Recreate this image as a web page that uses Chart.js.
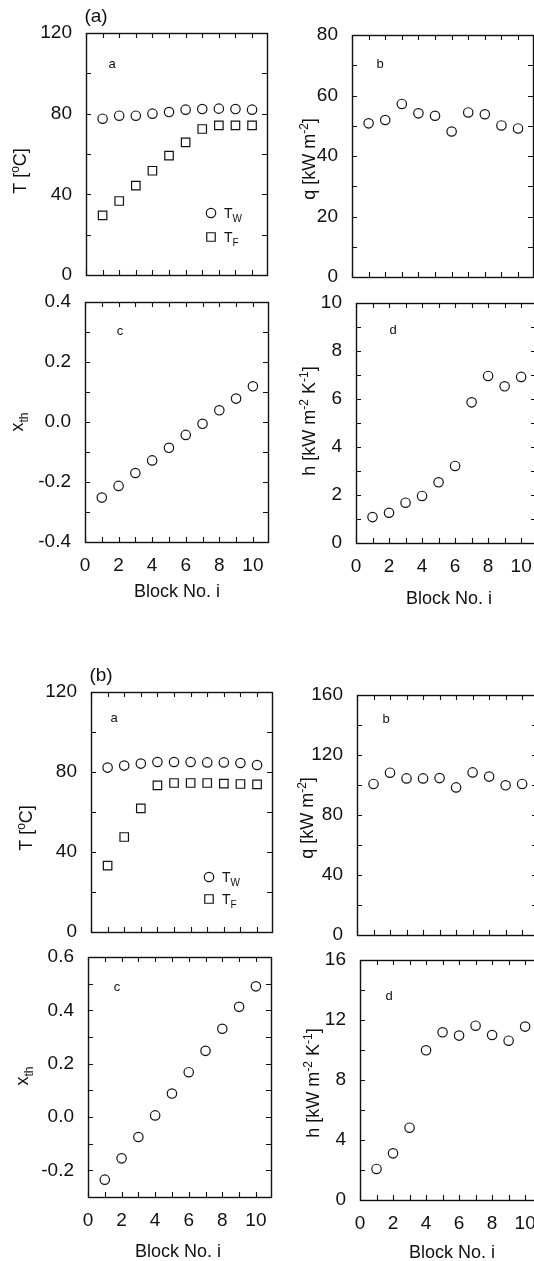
<!DOCTYPE html>
<html>
<head>
<meta charset="utf-8">
<script src="https://cdn.jsdelivr.net/npm/chart.js@4.4.0/dist/chart.umd.min.js"></script>
<style>
  html, body { margin: 0; padding: 0; background: #fff; width: 534px; height: 1261px; overflow: hidden; position: relative; }
  canvas { position: absolute; }
</style>
</head>
<body>
<script>
// Block numbers along the test section
const blocks = [1, 2, 3, 4, 5, 6, 7, 8, 9, 10];

// Run (a)
const twA  = [77.5, 79.0, 79.0, 80.0, 80.8, 82.0, 82.3, 82.5, 82.3, 82.0];
const tfA  = [29.6, 36.7, 44.3, 51.7, 59.2, 65.8, 72.4, 74.2, 74.2, 74.2];
const qA   = [50.8, 51.9, 57.2, 54.1, 53.3, 48.1, 54.4, 53.8, 50.1, 49.1];
const xthA = [-0.252, -0.213, -0.170, -0.128, -0.086, -0.043, -0.006, 0.039, 0.078, 0.119];
const hA   = [1.08, 1.26, 1.68, 1.96, 2.53, 3.21, 5.86, 6.96, 6.53, 6.92];

// Run (b)
const twB  = [82.2, 83.2, 84.2, 85.0, 85.0, 85.0, 84.8, 84.8, 84.5, 83.5];
const tfB  = [33.2, 47.5, 61.8, 73.3, 74.5, 74.5, 74.5, 74.2, 74.0, 73.8];
const qB   = [100.7, 108.2, 104.4, 104.4, 104.6, 98.4, 108.4, 105.6, 99.8, 100.7];
const xthB = [-0.235, -0.155, -0.075, 0.006, 0.088, 0.168, 0.248, 0.331, 0.413, 0.490];
const hB   = [2.07, 3.11, 4.82, 9.98, 11.18, 10.96, 11.62, 11.00, 10.62, 11.56];

// Tick positions along the block axis, and labelled tick values
const xTickValues    = [0, 1, 2, 3, 4, 5, 6, 7, 8, 9, 10];
const xTickLabels    = [0, 2, 4, 6, 8, 10];
const tTickLabels    = [0, 40, 80, 120];
const qTickLabelsA   = [0, 20, 40, 60, 80];
const xthTickLabelsA = [-0.4, -0.2, 0.0, 0.2, 0.4];
const hTickLabelsA   = [0, 2, 4, 6, 8, 10];
const qTickLabelsB   = [0, 40, 80, 120, 160];
const xthTickLabelsB = [-0.2, 0.0, 0.2, 0.4, 0.6];
const hTickLabelsB   = [0, 4, 8, 12, 16];

const FONT = '"Liberation Sans", Arial, Helvetica, sans-serif';
const INK = '#111';
const TICK_SIZE = 19;
Chart.defaults.font.family = FONT;
Chart.defaults.color = INK;

// Text with sub/superscript runs, optionally rotated to read upwards
function drawRich(ctx, segs, x, y, size, rotate, align) {
  const parts = segs.map(s => {
    const fs = (s.sup || s.sub) ? Math.round(size * 0.68) : size;
    ctx.font = fs + 'px ' + FONT;
    return { t: s.t, fs, w: ctx.measureText(s.t).width, dy: s.sup ? -size * 0.4 : (s.sub ? size * 0.3 : 0) };
  });
  const total = parts.reduce((a, p) => a + p.w, 0);
  ctx.save();
  ctx.translate(x, y);
  if (rotate) ctx.rotate(-Math.PI / 2);
  let cx = align === 'center' ? -total / 2 : 0;
  ctx.textBaseline = 'alphabetic';
  ctx.textAlign = 'left';
  ctx.fillStyle = INK;
  parts.forEach(p => { ctx.font = p.fs + 'px ' + FONT; ctx.fillText(p.t, cx, p.dy); cx += p.w; });
  ctx.restore();
}

// Closed frame with inward tick marks on all four sides
const frameTicks = {
  id: 'frameTicks',
  afterDatasetsDraw(chart) {
    const { ctx, chartArea: a, scales: { x, y } } = chart;
    const len = 5;
    ctx.save();
    ctx.strokeStyle = INK;
    ctx.lineWidth = 1.1;
    ctx.beginPath();
    x.ticks.forEach(t => {
      const px = Math.round(x.getPixelForValue(t.value)) + 0.5;
      ctx.moveTo(px, a.bottom); ctx.lineTo(px, a.bottom - len);
      ctx.moveTo(px, a.top); ctx.lineTo(px, a.top + len);
    });
    y.ticks.forEach(t => {
      const py = Math.round(y.getPixelForValue(t.value)) + 0.5;
      ctx.moveTo(a.left, py); ctx.lineTo(a.left + len, py);
      ctx.moveTo(a.right, py); ctx.lineTo(a.right - len, py);
    });
    ctx.stroke();
    ctx.lineWidth = 1.4;
    ctx.strokeRect(a.left + 0.5, a.top + 0.5, a.right - a.left, a.bottom - a.top);
    ctx.restore();
  }
};

// Axis titles, panel letters and the in-plot key
const panelDecor = {
  id: 'panelDecor',
  afterDraw(chart, args, o) {
    const ctx = chart.ctx;
    const ox = o.offset[0], oy = o.offset[1];
    (o.texts || []).forEach(t => drawRich(ctx, t.segs, t.x - ox, t.y - oy, t.size, t.rotate, t.align));
    (o.keys || []).forEach(k => {
      const ds = chart.data.datasets[k.dataset];
      ctx.save();
      ctx.strokeStyle = INK;
      ctx.fillStyle = 'rgba(0,0,0,0)';
      ctx.lineWidth = ds.pointBorderWidth;
      Chart.helpers.drawPoint(ctx, { pointStyle: ds.pointStyle, radius: ds.pointRadius, borderWidth: ds.pointBorderWidth, rotation: 0 }, k.x - ox, k.y - oy);
      ctx.restore();
      drawRich(ctx, k.segs, k.tx - ox, k.ty - oy, 14, false, 'left');
    });
  }
};

function labelFrom(list, digits) {
  return v => {
    const hit = list.find(l => Math.abs(l - v) < 1e-6);
    return hit === undefined ? '' : hit.toFixed(digits);
  };
}

const ML = 80, MT = 40, MR = 12, MB = 75;

function panel(p) {
  const [L, T, R, B] = p.box;
  const cw = R - L + ML + MR, ch = B - T + MT + MB;
  const left = L - ML, top = T - MT;
  const cv = document.createElement('canvas');
  cv.width = cw; cv.height = ch;
  cv.style.left = left + 'px'; cv.style.top = top + 'px';
  cv.style.width = cw + 'px'; cv.style.height = ch + 'px';
  document.body.appendChild(cv);

  new Chart(cv, {
    type: 'scatter',
    data: {
      datasets: p.series.map(s => ({
        label: s.name,
        data: blocks.map((b, i) => ({ x: b, y: s.values[i] })),
        pointStyle: s.style,
        pointRadius: s.style === 'rect' ? 6 : 4.7,
        pointHoverRadius: s.style === 'rect' ? 6 : 4.7,
        pointBorderWidth: 1.2,
        borderColor: INK,
        backgroundColor: 'rgba(0,0,0,0)',
        showLine: false
      }))
    },
    options: {
      responsive: false,
      animation: false,
      devicePixelRatio: 1,
      events: [],
      layout: { padding: { left: 0, top: MT, right: MR, bottom: 0 } },
      plugins: {
        legend: { display: false },
        tooltip: { enabled: false },
        panelDecor: { offset: [left, top], texts: p.texts, keys: p.keys }
      },
      scales: {
        x: {
          type: 'linear', min: 0, max: 10.9,
          afterBuildTicks: s => { s.ticks = xTickValues.map(v => ({ value: v })); },
          afterFit: s => { s.height = MB; },
          grid: { display: false }, border: { display: false },
          ticks: { display: p.xLabels, autoSkip: false, maxRotation: 0, minRotation: 0,
                   padding: 4, font: { size: TICK_SIZE }, color: INK, callback: labelFrom(xTickLabels, 0) }
        },
        y: {
          type: 'linear', min: p.yMin, max: p.yMax,
          afterFit: s => { s.width = ML; },
          grid: { display: false }, border: { display: false },
          ticks: { stepSize: p.yStep, autoSkip: false, padding: 6, font: { size: TICK_SIZE }, color: INK,
                   callback: labelFrom(p.yLabels, p.digits || 0) }
        }
      }
    },
    plugins: [frameTicks, panelDecor]
  });
}

const tTitle = [{ t: 'T [' }, { t: 'o', sup: true }, { t: 'C]' }];
const qTitle = [{ t: 'q [kW m' }, { t: '-2', sup: true }, { t: ']' }];
const xTitle = [{ t: 'x' }, { t: 'th', sub: true }];
const hTitle = [{ t: 'h [kW m' }, { t: '-2', sup: true }, { t: ' K' }, { t: '-1', sup: true }, { t: ']' }];
const blockTitle = [{ t: 'Block No. i' }];
const twKey = [{ t: 'T' }, { t: 'W', sub: true }];
const tfKey = [{ t: 'T' }, { t: 'F', sub: true }];
const letter = (s, x, y) => ({ segs: [{ t: s }], x, y, size: 13, rotate: false, align: 'center' });

// ---- Run (a) ----
panel({
  box: [86, 33, 267, 275], yMin: 0, yMax: 120, yStep: 20, yLabels: tTickLabels, xLabels: false,
  series: [{ name: 'TW', values: twA, style: 'circle' }, { name: 'TF', values: tfA, style: 'rect' }],
  texts: [
    { segs: [{ t: '(a)' }], x: 96, y: 22, size: 19, rotate: false, align: 'center' },
    { segs: tTitle, x: 26, y: 171, size: 18, rotate: true, align: 'center' },
    letter('a', 112, 68)
  ],
  keys: [
    { dataset: 0, x: 211, y: 213, segs: twKey, tx: 224, ty: 218 },
    { dataset: 1, x: 211, y: 237, segs: tfKey, tx: 224, ty: 242 }
  ]
});
panel({
  box: [352, 35, 533, 277], yMin: 0, yMax: 80, yStep: 10, yLabels: qTickLabelsA, xLabels: false,
  series: [{ name: 'q', values: qA, style: 'circle' }],
  texts: [
    { segs: qTitle, x: 315, y: 159, size: 18, rotate: true, align: 'center' },
    letter('b', 380, 68)
  ]
});
panel({
  box: [85, 302, 268, 542], yMin: -0.4, yMax: 0.4, yStep: 0.1, yLabels: xthTickLabelsA, digits: 1, xLabels: true,
  series: [{ name: 'xth', values: xthA, style: 'circle' }],
  texts: [
    { segs: xTitle, x: 23, y: 422, size: 18, rotate: true, align: 'center' },
    { segs: blockTitle, x: 177, y: 597, size: 18, rotate: false, align: 'center' },
    letter('c', 120, 335)
  ]
});
panel({
  box: [356, 303, 536, 543], yMin: 0, yMax: 10, yStep: 1, yLabels: hTickLabelsA, xLabels: true,
  series: [{ name: 'h', values: hA, style: 'circle' }],
  texts: [
    { segs: hTitle, x: 315, y: 421, size: 18, rotate: true, align: 'center' },
    { segs: blockTitle, x: 449, y: 604, size: 18, rotate: false, align: 'center' },
    letter('d', 393, 334)
  ]
});

// ---- Run (b) ----
panel({
  box: [91, 692, 272, 932], yMin: 0, yMax: 120, yStep: 20, yLabels: tTickLabels, xLabels: false,
  series: [{ name: 'TW', values: twB, style: 'circle' }, { name: 'TF', values: tfB, style: 'rect' }],
  texts: [
    { segs: [{ t: '(b)' }], x: 101, y: 681, size: 19, rotate: false, align: 'center' },
    { segs: tTitle, x: 32, y: 828, size: 18, rotate: true, align: 'center' },
    letter('a', 114, 722)
  ],
  keys: [
    { dataset: 0, x: 209, y: 877, segs: twKey, tx: 222, ty: 882 },
    { dataset: 1, x: 209, y: 899, segs: tfKey, tx: 222, ty: 904 }
  ]
});
panel({
  box: [357, 695, 537, 935], yMin: 0, yMax: 160, yStep: 20, yLabels: qTickLabelsB, xLabels: false,
  series: [{ name: 'q', values: qB, style: 'circle' }],
  texts: [
    { segs: qTitle, x: 313, y: 818, size: 18, rotate: true, align: 'center' },
    letter('b', 386, 723)
  ]
});
panel({
  box: [88, 957, 271, 1197], yMin: -0.3, yMax: 0.6, yStep: 0.1, yLabels: xthTickLabelsB, digits: 1, xLabels: true,
  series: [{ name: 'xth', values: xthB, style: 'circle' }],
  texts: [
    { segs: xTitle, x: 28, y: 1076, size: 18, rotate: true, align: 'center' },
    { segs: blockTitle, x: 178, y: 1257, size: 18, rotate: false, align: 'center' },
    letter('c', 117, 991)
  ]
});
panel({
  box: [360, 960, 540, 1200], yMin: 0, yMax: 16, yStep: 2, yLabels: hTickLabelsB, xLabels: true,
  series: [{ name: 'h', values: hB, style: 'circle' }],
  texts: [
    { segs: hTitle, x: 319, y: 1083, size: 18, rotate: true, align: 'center' },
    { segs: blockTitle, x: 452, y: 1258, size: 18, rotate: false, align: 'center' },
    letter('d', 389, 1000)
  ]
});
</script>
</body>
</html>
